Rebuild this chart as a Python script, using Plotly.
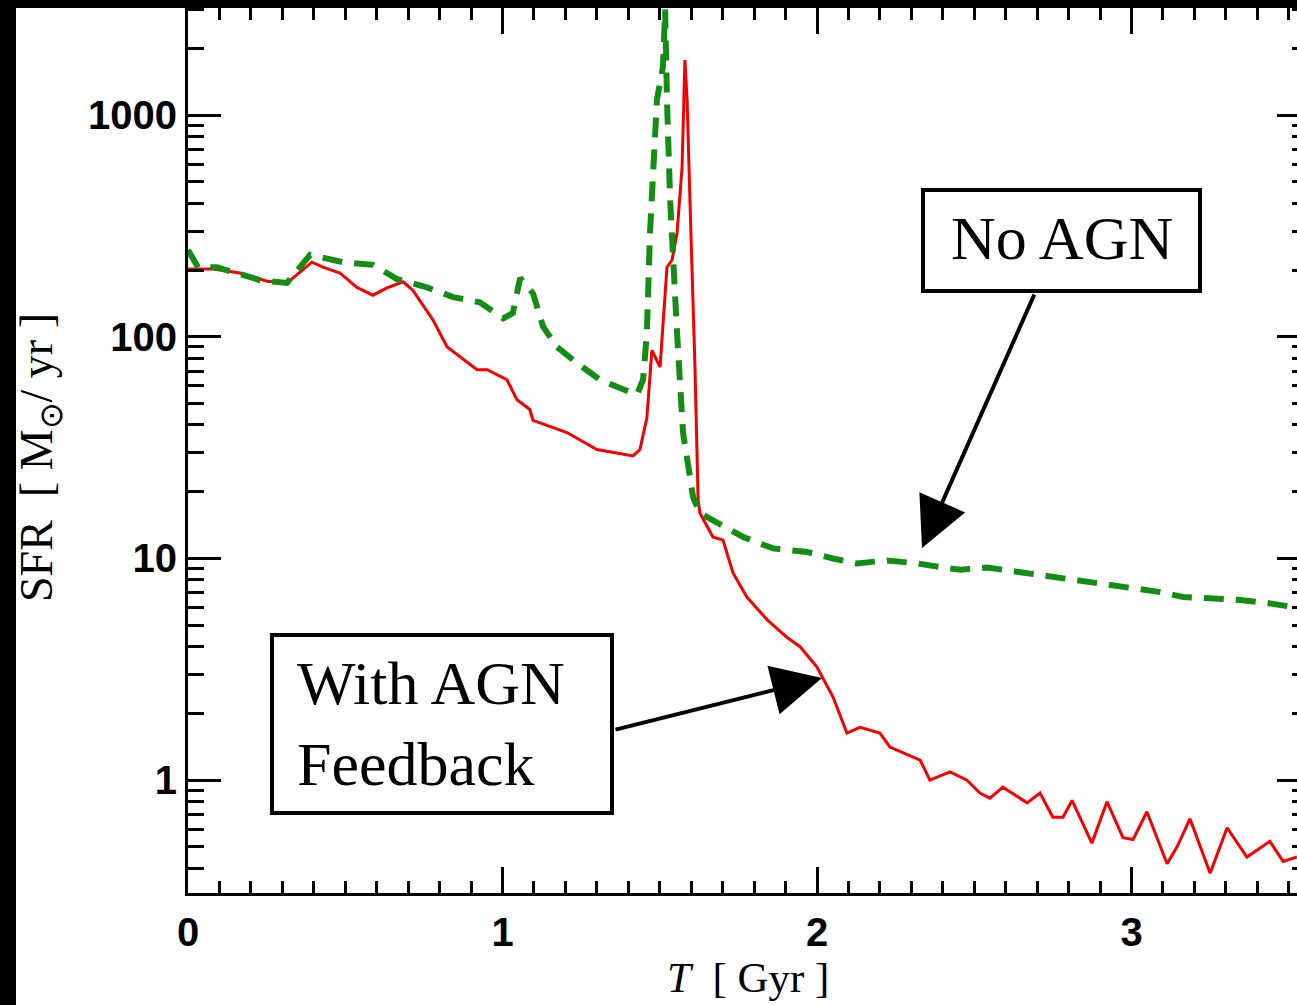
import plotly.graph_objects as go

# ---- data ----
t_agn = [0.00, 0.016, 0.079, 0.165, 0.251, 0.315, 0.394, 0.429, 0.483, 0.537, 0.588, 0.633, 0.684,
         0.715, 0.779, 0.824, 0.865, 0.919, 0.951, 1.014, 1.046, 1.087, 1.097, 1.205, 1.300, 1.415,
         1.437, 1.459, 1.475, 1.501, 1.523, 1.539, 1.555, 1.571, 1.580, 1.587, 1.596, 1.612, 1.622,
         1.628, 1.669, 1.701, 1.733, 1.777, 1.841, 1.905, 1.946, 2.000, 2.051, 2.095, 2.137, 2.200,
         2.232, 2.328, 2.359, 2.423, 2.477, 2.518, 2.550, 2.591, 2.668, 2.709, 2.750, 2.782, 2.811,
         2.874, 2.922, 2.973, 3.005, 3.049, 3.113, 3.145, 3.186, 3.250, 3.304, 3.367, 3.440, 3.482, 3.526]
sfr_agn = [202, 202, 202, 194, 178, 175, 217, 206, 194, 167, 154, 166, 177,
           162, 119, 90, 81, 71, 71, 64, 52, 47, 42, 37, 31, 29,
           31, 43, 87, 73, 206, 222, 294, 582, 1770, 1169, 414, 73, 18.3,
           16.0, 12.5, 12.1, 8.6, 6.7, 5.3, 4.4, 4.0, 3.24, 2.37, 1.63, 1.73, 1.63,
           1.41, 1.23, 1.0, 1.09, 1.0, 0.875, 0.83, 0.93, 0.79, 0.875, 0.68, 0.68, 0.81,
           0.52, 0.80, 0.55, 0.54, 0.72, 0.42, 0.50, 0.67, 0.38, 0.61, 0.45, 0.53, 0.43, 0.45]

t_noagn = [0.000, 0.032, 0.092, 0.229, 0.315, 0.388, 0.493, 0.588, 0.665, 0.760, 0.843, 0.928, 1.002,
           1.033, 1.056, 1.097, 1.129, 1.173, 1.237, 1.310, 1.383, 1.428, 1.447, 1.459, 1.469, 1.491,
           1.510, 1.517, 1.523, 1.533, 1.555, 1.574, 1.606, 1.628, 1.682, 1.765, 1.860, 1.968, 2.051,
           2.127, 2.223, 2.318, 2.413, 2.455, 2.541, 2.636, 2.731, 2.814, 2.900, 3.005, 3.091, 3.164,
           3.259, 3.345, 3.431, 3.526]
sfr_noagn = [246, 206, 206, 180, 175, 234, 217, 211, 182, 167, 151, 143, 121,
             128, 184, 157, 111, 90, 76, 64, 58, 55, 64, 104, 294, 1169,
             1647, 3000, 1169, 414, 104, 37, 18.9, 16.0, 14.5, 12.5, 11.1, 10.7, 10.0,
             9.5, 9.8, 9.5, 9.05, 8.9, 9.1, 8.7, 8.4, 8.0, 7.75, 7.4, 7.05, 6.7,
             6.6, 6.5, 6.3, 6.0]

x_tickvals = [0, 1, 2, 3]
y_tickvals = [1, 10, 100, 1000]
y_ticktext = ["1", "10", "100", "1000"]

# ---- figure ----
W, H = 1297, 1005
L, R, T, B = 188, 0, 8, 112
PW, PH = W - L - R, H - T - B
YRANGE = [-0.509, 3.483]


def px(x):
    return (x - L) / PW


def py(y):
    return (H - B - y) / PH


fig = go.Figure()
fig.add_trace(go.Scatter(x=t_agn, y=sfr_agn, mode="lines",
                         line=dict(color="#f20000", width=3), name="With AGN Feedback"))
fig.add_trace(go.Scatter(x=t_noagn, y=sfr_noagn, mode="lines",
                         line=dict(color="#158c15", width=6, dash="20px,12px"), name="No AGN"))

tickfont = dict(family="Liberation Sans", size=40, color="black", weight="bold")

fig.update_layout(
    xaxis=dict(range=[0, PW / 314.5], showline=True, linecolor="black", linewidth=3,
               mirror="ticks", ticks="inside", ticklen=26, tickwidth=3, tickcolor="black",
               tickvals=x_tickvals, tickfont=tickfont, ticklabelstandoff=2,
               showgrid=False, zeroline=False,
               minor=dict(dtick=0.1, ticks="inside", ticklen=12, tickwidth=3,
                          tickcolor="black", showgrid=False)),
    yaxis=dict(type="log", range=YRANGE, showline=True, linecolor="black",
               linewidth=3, mirror=False, ticks="inside", ticklen=33, tickwidth=3,
               tickcolor="black", tickvals=y_tickvals, ticktext=y_ticktext,
               tickfont=tickfont, ticklabelstandoff=0, showgrid=False, zeroline=False,
               minor=dict(dtick="D1", ticks="inside", ticklen=16, tickwidth=3,
                          tickcolor="black", showgrid=False)),
    yaxis2=dict(type="log", range=YRANGE, overlaying="y", side="right", anchor="x",
                showline=False, ticks="inside", ticklen=20, tickwidth=3, tickcolor="black",
                tickvals=y_tickvals, showticklabels=False, showgrid=False, zeroline=False,
                minor=dict(dtick="D1", ticks="inside", ticklen=5, tickwidth=3,
                           tickcolor="black", showgrid=False)),
)
# invisible trace to activate the right-hand axis
fig.add_trace(go.Scatter(x=[0], y=[1], yaxis="y2", mode="lines", hoverinfo="skip",
                         line=dict(width=0), showlegend=False))

shapes = [
    # white page area (black border on the left and top)
    dict(type="rect", xref="paper", yref="paper", x0=px(16), x1=px(W + 5), y0=py(H + 5), y1=py(T),
         fillcolor="white", line=dict(width=0), layer="below"),
    dict(type="rect", xref="paper", yref="paper", x0=px(923), x1=px(1200), y0=py(291), y1=py(190),
         fillcolor="white", line=dict(color="black", width=4)),
    dict(type="rect", xref="paper", yref="paper", x0=px(272), x1=px(612), y0=py(813), y1=py(635),
         fillcolor="white", line=dict(color="black", width=4)),
]

serif = "Liberation Serif"
annotations = [
    dict(xref="paper", yref="paper", x=px(1062), y=py(238), text="No AGN", showarrow=False,
         xanchor="center", yanchor="middle", font=dict(family=serif, size=62, color="black")),
    dict(xref="paper", yref="paper", x=px(295), y=py(723), text="With AGN<br>Feedback",
         showarrow=False, xanchor="left", yanchor="middle", align="left",
         font=dict(family=serif, size=62, color="black")),
    # arrows
    dict(xref="paper", yref="paper", x=px(922), y=py(548), ax=1035 - 922, ay=293 - 548,
         text="", showarrow=True, arrowhead=2, arrowsize=2.5, arrowwidth=4, arrowcolor="black"),
    dict(xref="paper", yref="paper", x=px(822), y=py(678), ax=614 - 822, ay=730 - 678,
         text="", showarrow=True, arrowhead=2, arrowsize=2.5, arrowwidth=4, arrowcolor="black"),
    # axis titles
    dict(xref="paper", yref="paper", x=px(748), y=py(977),
         text="<i>T</i>\u00a0\u00a0[\u00a0Gyr\u00a0]", showarrow=False,
         xanchor="center", yanchor="middle", font=dict(family=serif, size=43, color="black")),
    dict(xref="paper", yref="paper", x=px(40), y=py(458),
         text="SFR\u00a0\u00a0[\u00a0M<sub>\u2299</sub>/\u00a0yr\u00a0]", showarrow=False,
         textangle=-90, xanchor="center", yanchor="middle",
         font=dict(family=serif, size=46, color="black")),
]

fig.update_layout(width=W, height=H, margin=dict(l=L, r=R, t=T, b=B, autoexpand=False),
                  paper_bgcolor="black", plot_bgcolor="white", showlegend=False,
                  shapes=shapes, annotations=annotations)

fig.write_html("out.html", config=dict(displayModeBar=False))
